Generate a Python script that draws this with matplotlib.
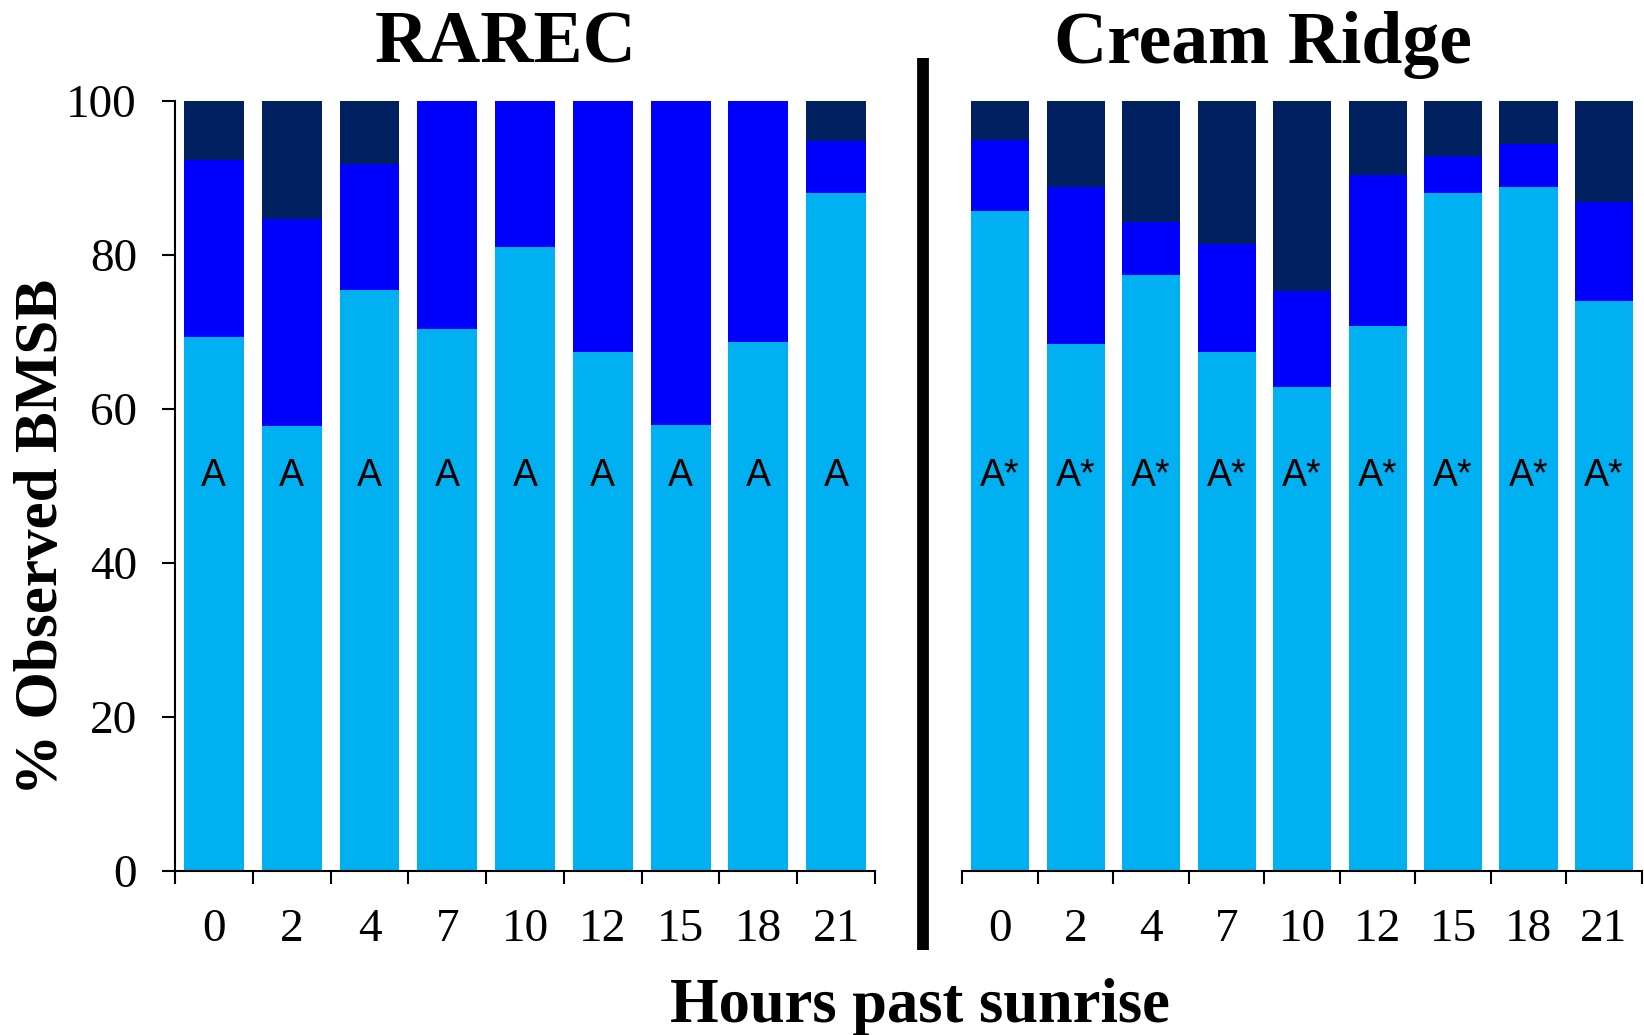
import numpy as np
import matplotlib
matplotlib.use("Agg")
import matplotlib.pyplot as plt
from matplotlib.lines import Line2D

hours = ['0', '2', '4', '7', '10', '12', '15', '18', '21']

# % of observed BMSB in each category (bottom, middle, top segment)
rarec_light = [69.3, 57.7, 75.4, 70.3, 81.0, 67.3, 57.9, 68.7, 88.0]
rarec_mid = [23.0, 26.9, 16.4, 29.7, 19.0, 32.7, 42.1, 31.3, 6.8]
rarec_dark = [7.7, 15.4, 8.2, 0.0, 0.0, 0.0, 0.0, 0.0, 5.2]

cream_light = [85.7, 68.4, 77.3, 67.4, 62.8, 70.7, 88.0, 88.8, 74.0]
cream_mid = [9.2, 20.4, 6.9, 14.0, 12.5, 19.6, 4.8, 5.6, 12.9]
cream_dark = [5.1, 11.2, 15.8, 18.6, 24.7, 9.7, 7.2, 5.6, 13.1]

rarec_letters = ['A'] * 9
cream_letters = ['A*'] * 9

c_light = '#00B0F0'
c_mid = '#0000FF'
c_dark = '#002060'

serif = ['Liberation Serif', 'DejaVu Serif']
plt.rcParams['font.family'] = serif

fig = plt.figure(figsize=(16.44, 10.35), dpi=100)
ax1 = fig.add_axes([0.10645, 0.15874, 0.42579, 0.74396])
ax2 = fig.add_axes([0.58546, 0.15874, 0.41314, 0.74396])


def draw_panel(ax, light, mid, dark, letters, show_y):
    x = np.arange(len(hours))
    light = np.array(light)
    mid = np.array(mid)
    dark = np.array(dark)
    w = 0.77
    ax.bar(x, light, w, color=c_light, linewidth=0)
    ax.bar(x, mid, w, bottom=light, color=c_mid, linewidth=0)
    ax.bar(x, dark, w, bottom=light + mid, color=c_dark, linewidth=0)
    for xi, lab in zip(x, letters):
        ax.text(xi, 50, lab, ha='center', va='baseline', fontsize=27,
                family=['Liberation Sans', 'DejaVu Sans'])
    ax.set_xlim(-0.5, len(hours) - 0.5)
    ax.set_ylim(0, 100)
    for s in ['top', 'right']:
        ax.spines[s].set_visible(False)
    ax.spines['bottom'].set_linewidth(1.5)
    ax.spines['left'].set_linewidth(1.5)
    ax.set_xticks(x)
    ax.set_xticklabels(hours, fontsize=34)
    ax.tick_params(axis='x', which='major', length=0, pad=27)
    ax.set_xticks(np.arange(-0.5, len(hours), 1.0), minor=True)
    ax.tick_params(axis='x', which='minor', length=9.4, width=1.5)
    if show_y:
        ax.set_yticks(np.arange(0, 101, 20))
        ax.tick_params(axis='y', labelsize=34, length=9.4, width=1.5, pad=18)
    else:
        ax.spines['left'].set_visible(False)
        ax.set_yticks([])


draw_panel(ax1, rarec_light, rarec_mid, rarec_dark, rarec_letters, True)
draw_panel(ax2, cream_light, cream_mid, cream_dark, cream_letters, False)

fig.text(506 / 1644, 0.9394, 'RAREC', ha='center', va='baseline',
         fontsize=53, fontweight='bold')
fig.text(1263 / 1644, 0.9394, 'Cream Ridge', ha='center', va='baseline',
         fontsize=53, fontweight='bold')
fig.text(920 / 1644, 1 - 1007 / 1035, 'Hours past sunrise', ha='center',
         va='center', fontsize=45, fontweight='bold')
fig.text(42 / 1644, 0.481, '% Observed BMSB', ha='center', va='center',
         rotation=90, fontsize=44, fontweight='bold')

# divider between the two sites
fig.add_artist(Line2D([923 / 1644, 923 / 1644], [1 - 58 / 1035, 1 - 950 / 1035],
                      transform=fig.transFigure, color='black', linewidth=8.5,
                      solid_capstyle='butt'))

fig.savefig('out.png', dpi=100)
